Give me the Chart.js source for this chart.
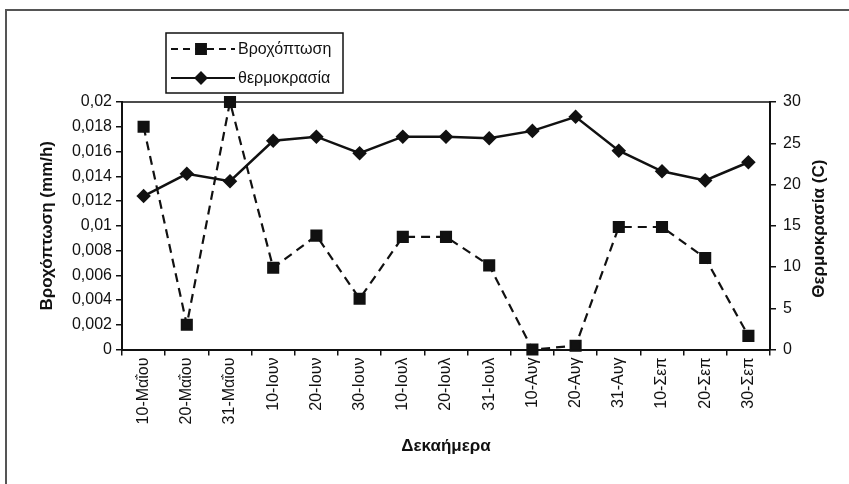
<!DOCTYPE html>
<html>
<head>
<meta charset="utf-8">
<script src="https://cdn.jsdelivr.net/npm/chart.js@4.4.1/dist/chart.umd.min.js"></script>
<style>
  html, body { margin: 0; padding: 0; background: #fff; }
  #wrap { position: relative; width: 849px; height: 484px; }
</style>
</head>
<body>
<div id="wrap"><canvas id="c" width="849" height="484"></canvas></div>
<script>
// Ten-day periods (δεκαήμερα), May to September
const categories = ['10-Μαΐου', '20-Μαΐου', '31-Μαΐου', '10-Ιουν', '20-Ιουν', '30-Ιουν',
  '10-Ιουλ', '20-Ιουλ', '31-Ιουλ', '10-Αυγ', '20-Αυγ', '31-Αυγ', '10-Σεπ', '20-Σεπ', '30-Σεπ'];

// Rainfall intensity (mm/h), left axis
const rainfall = [0.018, 0.002, 0.020, 0.0066, 0.0092, 0.0041, 0.0091, 0.0091, 0.0068,
  0.0, 0.0003, 0.0099, 0.0099, 0.0074, 0.0011];

// Temperature (C), right axis
const temperature = [18.6, 21.3, 20.4, 25.3, 25.8, 23.8, 25.8, 25.8, 25.6,
  26.5, 28.2, 24.1, 21.6, 20.5, 22.7];

const rainTicks = [0, 0.002, 0.004, 0.006, 0.008, 0.01, 0.012, 0.014, 0.016, 0.018, 0.02];
const tempTicks = [0, 5, 10, 15, 20, 25, 30];

const seriesNames = ['Βροχόπτωση', 'θερμοκρασία'];
const axisTitles = { x: 'Δεκαήμερα', left: 'Βροχόπτωση (mm/h)', right: 'Θερμοκρασία (C)' };

const FONT = '"Liberation Sans", Arial, sans-serif';
const INK = '#111';
const TICK_SIZE = 16;
const TITLE_SIZE = 17;

const fmtComma = v => String(+v.toFixed(4)).replace('.', ',');

// Frame around the plot area, outer page border, right axis title and the boxed legend
const decorations = {
  id: 'decorations',
  afterDraw(chart) {
    const ctx = chart.ctx;
    const a = chart.chartArea;
    ctx.save();
    // outer border (top and left edges)
    ctx.strokeStyle = '#555';
    ctx.lineWidth = 2;
    ctx.beginPath();
    ctx.moveTo(6, 484);
    ctx.lineTo(6, 10);
    ctx.lineTo(849, 10);
    ctx.stroke();
    // top edge of the plot area
    ctx.strokeStyle = INK;
    ctx.lineWidth = 1.5;
    ctx.beginPath();
    ctx.moveTo(a.left, a.top);
    ctx.lineTo(a.right, a.top);
    ctx.stroke();

    // right axis title, reading bottom to top
    ctx.save();
    ctx.translate(819, (a.top + a.bottom) / 2 + 3);
    ctx.rotate(-Math.PI / 2);
    ctx.fillStyle = INK;
    ctx.font = 'bold ' + TITLE_SIZE + 'px ' + FONT;
    ctx.textAlign = 'center';
    ctx.textBaseline = 'middle';
    ctx.fillText(axisTitles.right, 0, 0);
    ctx.restore();

    // legend box
    const bx = 166, by = 33, bw = 177, bh = 60;
    ctx.fillStyle = '#fff';
    ctx.fillRect(bx, by, bw, bh);
    ctx.strokeStyle = INK;
    ctx.lineWidth = 1.5;
    ctx.strokeRect(bx, by, bw, bh);

    const rows = [
      { y: by + 16, dash: [7, 5], marker: 'rect', radius: 7, label: seriesNames[0] },
      { y: by + 45, dash: [], marker: 'rectRot', radius: 5.5, label: seriesNames[1] }
    ];
    rows.forEach(r => {
      ctx.setLineDash(r.dash);
      ctx.lineWidth = 2;
      ctx.strokeStyle = INK;
      ctx.beginPath();
      ctx.moveTo(bx + 5, r.y);
      ctx.lineTo(bx + 69, r.y);
      ctx.stroke();
      ctx.setLineDash([]);
      ctx.fillStyle = INK;
      Chart.helpers.drawPoint(ctx, { pointStyle: r.marker, radius: r.radius, rotation: 0, borderWidth: 1 }, bx + 35, r.y);
      ctx.fillStyle = INK;
      ctx.font = '16px ' + FONT;
      ctx.textAlign = 'left';
      ctx.textBaseline = 'middle';
      ctx.fillText(r.label, bx + 72, r.y + 1);
    });
    ctx.restore();
  }
};

new Chart(document.getElementById('c'), {
  type: 'line',
  data: {
    labels: categories,
    datasets: [
      {
        label: seriesNames[0],
        data: rainfall,
        yAxisID: 'y',
        borderColor: INK,
        backgroundColor: INK,
        borderWidth: 2.2,
        borderDash: [9, 6],
        pointStyle: 'rect',
        pointRadius: 7,
        pointHoverRadius: 7,
        pointBackgroundColor: INK,
        pointBorderColor: INK,
        tension: 0,
        clip: false
      },
      {
        label: seriesNames[1],
        data: temperature,
        yAxisID: 'y1',
        borderColor: INK,
        backgroundColor: INK,
        borderWidth: 2.5,
        pointStyle: 'rectRot',
        pointRadius: 5.5,
        pointHoverRadius: 5.5,
        pointBackgroundColor: INK,
        pointBorderColor: INK,
        tension: 0,
        clip: false
      }
    ]
  },
  options: {
    responsive: false,
    animation: false,
    layout: { padding: { left: 10, right: 0, top: 102, bottom: 0 } },
    plugins: {
      legend: { display: false },
      tooltip: { enabled: false }
    },
    scales: {
      x: {
        offset: true,
        grid: { display: true, offset: true, drawOnChartArea: false, color: INK, lineWidth: 1.5, tickLength: 6 },
        border: { display: true, color: INK, width: 2 },
        ticks: {
          color: INK, font: { family: FONT, size: TICK_SIZE },
          minRotation: 90, maxRotation: 90, autoSkip: false, padding: 2
        },
        title: {
          display: true, text: axisTitles.x, color: INK,
          font: { family: FONT, size: TITLE_SIZE, weight: 'bold' }, padding: { top: 8, bottom: 27 }
        },
        afterFit(s) { s.height = 134.5; }
      },
      y: {
        position: 'left',
        min: 0, max: 0.02,
        afterBuildTicks(s) { s.ticks = rainTicks.map(v => ({ value: v })); },
        grid: { display: true, drawOnChartArea: false, color: INK, lineWidth: 1.5, tickLength: 6 },
        border: { display: true, color: INK, width: 2 },
        ticks: { color: INK, font: { family: FONT, size: TICK_SIZE }, padding: 4, callback: v => fmtComma(v) },
        title: {
          display: true, text: axisTitles.left, color: INK,
          font: { family: FONT, size: TITLE_SIZE, weight: 'bold' }, padding: { top: 27, bottom: 0 }
        },
        afterFit(s) { s.width = 112; }
      },
      y1: {
        position: 'right',
        min: 0, max: 30,
        afterBuildTicks(s) { s.ticks = tempTicks.map(v => ({ value: v })); },
        grid: { display: true, drawOnChartArea: false, color: INK, lineWidth: 1.5, tickLength: 6 },
        border: { display: true, color: INK, width: 2 },
        ticks: { color: INK, font: { family: FONT, size: TICK_SIZE }, padding: 7 },
        afterFit(s) { s.width = 79; }
      }
    }
  },
  plugins: [decorations]
});
</script>
</body>
</html>
